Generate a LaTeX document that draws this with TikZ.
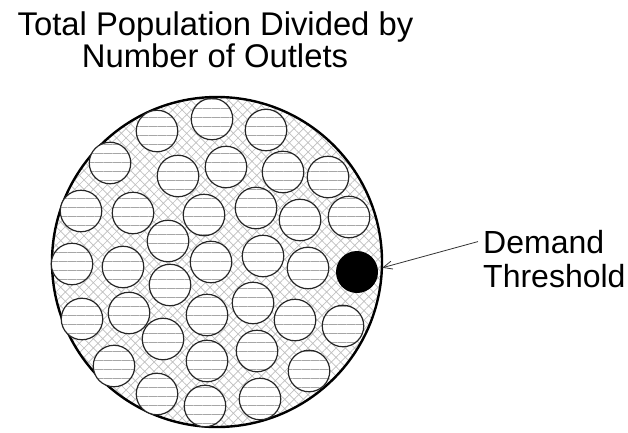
\documentclass[tikz,border=0pt]{standalone}
\usepackage{fontspec}
\setmainfont{Liberation Sans}
\usetikzlibrary{patterns.meta,arrows.meta}

\begin{document}
\begin{tikzpicture}[x=1pt, y=-1pt,
    area/.style={circle, draw=black, line width=2.4pt, minimum size=330pt, inner sep=0pt,
      pattern={Hatch[angle=45, distance=6.6pt, line width=0.7pt]}, pattern color=black!25},
    outlet/.style={circle, draw=black!85, line width=1.2pt, minimum size=41.5pt, inner sep=0pt,
      preaction={fill=white}, pattern={Lines[angle=0, distance=9pt, line width=1pt]}, pattern color=black!35},
    txt/.style={font=\fontsize{32pt}{34pt}\selectfont, inner sep=0pt}]
  \useasboundingbox (0,0) rectangle (628,432);

  \node[txt, font=\fontsize{32.8pt}{34pt}\selectfont, anchor=base] (title1) at (215.5,35) {Total Population Divided by};
  \node[txt, font=\fontsize{32.8pt}{34pt}\selectfont, anchor=base] (title2) at (215,67) {Number of Outlets};

  \node[area] (area) at (217,262) {};

  % the outlets, row by row from the top
  \foreach \x/\y [count=\i] in {157/131, 212/119, 266/130,
      110/163, 178/176, 226/167, 283/172, 328/177,
      81/211, 133/213, 168/241, 204/215, 256/208, 300/220, 349/217,
      72/264, 123/267, 170/285, 211/262, 263/256, 308/268,
      82/319, 129/313, 163/339, 207/315, 253/303, 295/320, 343/326,
      114/366, 157/394, 207/361, 257/351, 309/371,
      205/406, 260/399}
    \node[outlet] (c\i) at (\x,\y) {};
  \node[circle, fill=black, minimum size=42pt, inner sep=0pt] (dot) at (357,272) {};

  \node[txt, anchor=base west, inner xsep=5pt] (dem) at (478,253) {Demand};
  \node[txt, anchor=base west] (thr) at (483,287) {Threshold};
  \draw[-{Straight Barb[length=9pt, width=8pt]}, line width=0.8pt, black!80] (dem.west) -- (area.-2.5);
\end{tikzpicture}
\end{document}
